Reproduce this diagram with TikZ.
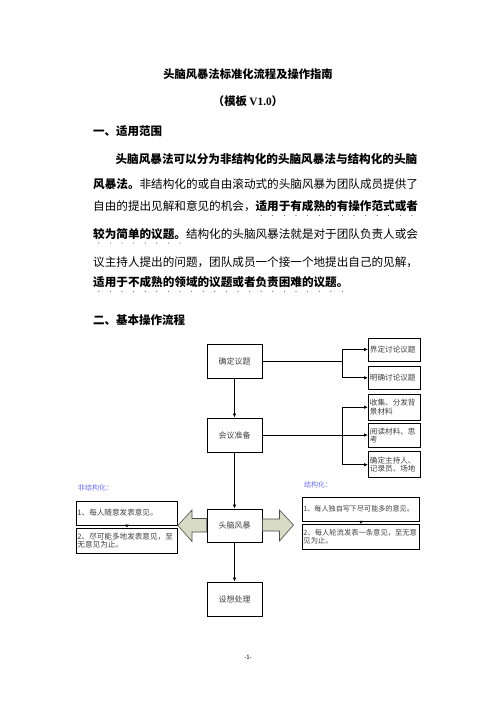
\documentclass[tikz,border=0pt]{standalone}
\usepackage{fontspec}
\setmainfont{Noto Sans CJK SC}
\newfontfamily\latinserif{Liberation Serif}
\usetikzlibrary{arrows.meta,calc}
\definecolor{lblue}{RGB}{110,110,235}
\definecolor{arrowfill}{RGB}{216,220,198}
\definecolor{boxtext}{RGB}{64,64,64}
\begin{document}
\begin{tikzpicture}[x=1pt,y=-1pt,
  body/.style={anchor=west,inner sep=0pt,font=\fontsize{11.6}{12}\selectfont},
  heading/.style={anchor=west,inner sep=0pt,font=\bfseries\fontsize{11.5}{12}\selectfont},
  mainbox/.style={draw,line width=0.9pt,minimum width=55pt,minimum height=34pt,inner sep=0pt,text=boxtext,font=\fontsize{8}{9}\selectfont},
  sidebox/.style={draw,line width=0.9pt,minimum width=52pt,minimum height=24.5pt,inner xsep=1.5pt,inner ysep=0pt,text=boxtext,align=left,anchor=west,text width=49pt,font=\fontsize{7.6}{8.4}\selectfont},
  optbox/.style={draw,line width=0.9pt,anchor=west,inner xsep=1pt,inner ysep=0pt,minimum height=24.5pt,align=left,text=boxtext,font=\fontsize{7.6}{8.6}\selectfont},
  lbl/.style={anchor=west,inner sep=0pt,text=lblue,font=\fontsize{7}{8}\selectfont},
  arr/.style={line width=0.9pt,-{Latex[length=4pt,width=3.5pt]}},
  ln/.style={line width=0.9pt},
  blockarrow/.style={fill=arrowfill,draw=black!70,line width=0.6pt},
  emph/.style={fill=black!60}
]
\useasboundingbox (0,0) rectangle (496,702);
\fill[white] (0,0) rectangle (496,702);

% Title
\node[font=\bfseries\fontsize{11.3}{12}\selectfont,inner sep=0pt] (title) at (248,74) {头脑风暴法标准化流程及操作指南};
\node[font=\bfseries\fontsize{11.3}{12}\selectfont,inner sep=0pt] (subtitle) at (248,101) {（模板 {\latinserif\bfseries V1.0}）};

% Section 1
\node[heading] (h1) at (93,131) {一、适用范围};
\node[body] (p1) at (115.4,159) {\bfseries 头脑风暴法可以分为非结构化的头脑风暴法与结构化的头脑};
\node[body] (p2) at (93,184) {{\bfseries 风暴法。}非结构化的或自由滚动式的头脑风暴为团队成员提供了};
\node[body] (p3) at (93,206) {自由的提出见解和意见的机会，{\bfseries 适用于有成熟的有操作范式或者}};
\node[body] (p4) at (93,234) {{\bfseries 较为简单的议题。}结构化的头脑风暴法就是对于团队负责人或会};
\node[body] (p5) at (93,262) {议主持人提出的问题，团队成员一个接一个地提出自己的见解，};
\node[body] (p6) at (93,282) {\bfseries 适用于不成熟的领域的议题或者负责困难的议题。};

% emphasis dots
\foreach \i in {0,...,13} \fill[emph] (255.4+5.8+11.6*\i,215.5) circle (0.6);
\foreach \i in {0,...,7} \fill[emph] (93+5.8+11.6*\i,243) circle (0.6);
\foreach \i in {0,...,21} \fill[emph] (93+5.8+11.6*\i,291.5) circle (0.6);

% Section 2
\node[heading] (h2) at (93,320) {二、基本操作流程};

% Main flow
\node[mainbox] (c1) at (234.5,361) {确定议题};
\node[mainbox] (c2) at (234.5,435) {会议准备};
\node[mainbox,minimum height=33pt] (c3) at (234.5,525.5) {头脑风暴};
\node[mainbox] (c4) at (234.5,599) {设想处理};

\draw[arr] (c1) -- (c2);
\draw[arr] (c2) -- (c3);
\draw[arr] (c3) -- (c4);

% Right side boxes
\node[sidebox,minimum height=23pt] (r1) at (368,349.5) {界定讨论议题};
\node[sidebox,minimum height=23.5pt] (r2) at (368,377.8) {明确讨论议题};
\node[sidebox,minimum height=26pt] (r3) at (368,407.2) {收集、分发背\\景材料};
\node[sidebox] (r4) at (368,435.5) {阅读材料、思\\考};
\node[sidebox,minimum height=26pt] (r5) at (368,464.7) {确定主持人、\\记录员、场地};

\coordinate (t1) at (342,361);
\coordinate (t2) at (342,435);
\draw[ln] (c1.east) -- (t1);
\draw[arr] (t1) |- (r1.west);
\draw[arr] (t1) |- (r2.west);
\draw[ln] (c2.east) -- (t2);
\draw[arr] (t2) -- (t2 -| r4.west);
\draw[arr] (t2) |- (r3.west);
\draw[arr] (t2) |- (r5.west);

% Unstructured
\node[lbl] (lu) at (78,488) {非结构化：};
\node[optbox,text width=99pt,minimum height=24pt] (l1) at (76,513) {1、每人随意发表意见。};
\node[optbox,text width=99pt,minimum height=25pt] (l2) at (76,540.5) {2、尽可能多地发表意见，至\\无意见为止。};
\draw[line width=0.6pt,-{Latex[length=3pt,width=4pt]}] (l1.south) -- (l2.north);

% Structured
\node[lbl] (ls) at (304,485) {结构化：};
\node[optbox,text width=115pt,minimum height=24pt,font=\fontsize{7.1}{8.4}\selectfont] (s1) at (302,509) {1、每人独自写下尽可能多的意见。};
\node[optbox,text width=115pt,minimum height=24.7pt,font=\fontsize{7.3}{8.4}\selectfont] (s2) at (302,536.7) {2、每人轮流发表一条意见，至无意\\见为止。};
\draw[line width=0.6pt,-{Latex[length=3pt,width=4pt]}] (s1.south) -- (s2.north);

% Block arrows
\draw[blockarrow] (c3.west |- 0,518.5) -- (192,518.5) -- (192,510) -- (l1.south east) -- (192,541.5) -- (192,532) -- (c3.west |- 0,532) -- cycle;
\draw[blockarrow] (c3.east |- 0,519) -- (279.5,519) -- (279.5,510) -- (293.5,525) -- (279.5,541) -- (279.5,531) -- (c3.east |- 0,531) -- cycle;

% Page number
\node[font=\fontsize{6}{7}\selectfont,inner sep=0pt] (pg) at (248,657) {-1-};
\end{tikzpicture}
\end{document}
